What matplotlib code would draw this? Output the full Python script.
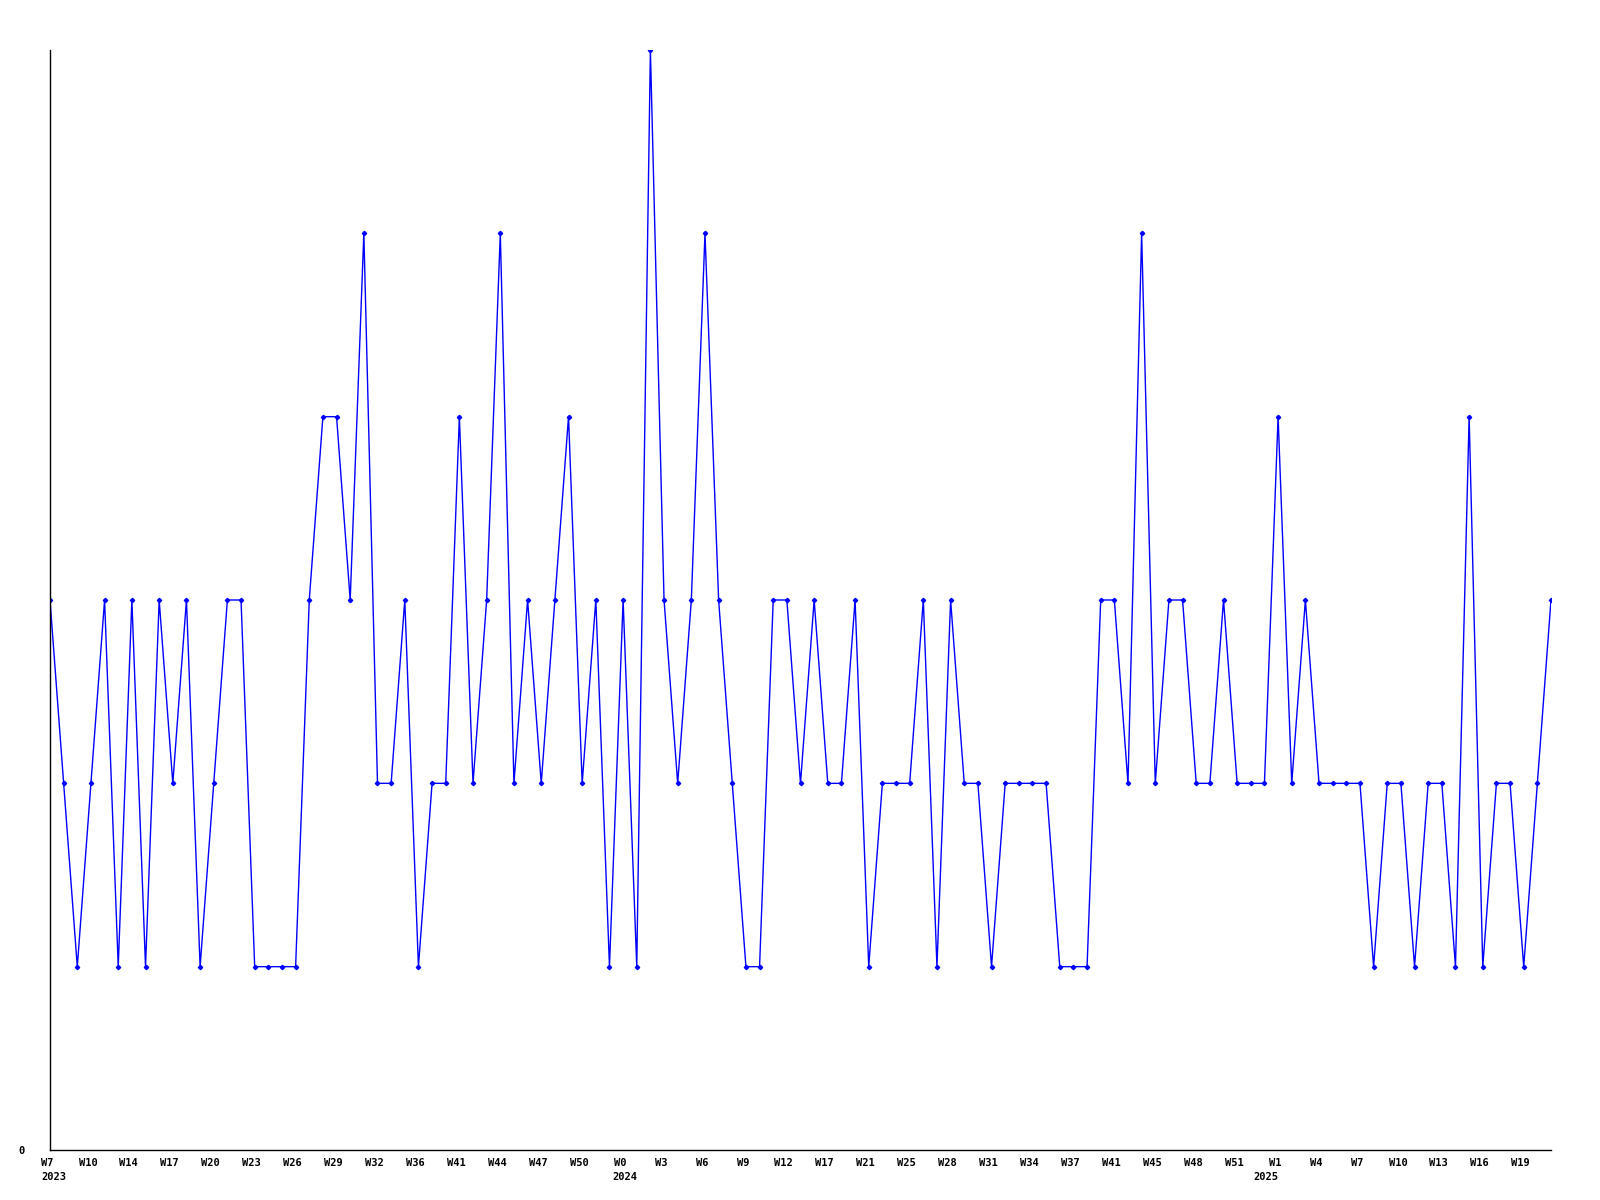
import matplotlib.pyplot as plt
import matplotlib.transforms as mtransforms

# weekly counts, one per week (W7 2023 .. W20 2025)
counts = [3, 2, 1, 2, 3, 1, 3, 1, 3, 2, 3, 1, 2, 3, 3, 1, 1, 1, 1, 3,
          4, 4, 3, 5, 2, 2, 3, 1, 2, 2, 4, 2, 3, 5, 2, 3, 2, 3, 4, 2,
          3, 1, 3, 1, 6, 3, 2, 3, 5, 3, 2, 1, 1, 3, 3, 2, 3, 2, 2, 3,
          1, 2, 2, 2, 3, 1, 3, 2, 2, 1, 2, 2, 2, 2, 1, 1, 1, 3, 3, 2,
          5, 2, 3, 3, 2, 2, 3, 2, 2, 2, 4, 2, 3, 2, 2, 2, 2, 1, 2, 2,
          1, 2, 2, 1, 4, 1, 2, 2, 1, 2, 3]

week_labels = ["W7", "W10", "W14", "W17", "W20", "W23", "W26", "W29", "W32",
               "W36", "W41", "W44", "W47", "W50", "W0", "W3", "W6", "W9",
               "W12", "W17", "W21", "W25", "W28", "W31", "W34", "W37", "W41",
               "W45", "W48", "W51", "W1", "W4", "W7", "W10", "W13", "W16", "W19"]
label_every = 3

years = ["2023", "2024", "2025"]
year_idx = [0, 42, 90]
year_shift_px = [3.5, 2, -12]

font = {'family': 'DejaVu Sans Mono', 'weight': 'bold', 'size': 7.5}

fig = plt.figure(figsize=(16, 12), dpi=100)
ax = fig.add_axes([50 / 1600, 50 / 1200, 1501 / 1600, 1100 / 1200])

x = list(range(len(counts)))
ax.plot(x, counts, color='#0000ff', lw=1, marker='D', markersize=2.2)

ax.set_xlim(0, len(counts) - 1)
ax.set_ylim(0, 6)

for s in ['top', 'right']:
    ax.spines[s].set_visible(False)
for s in ['left', 'bottom']:
    ax.spines[s].set_color('black')
    ax.spines[s].set_linewidth(1)

ax.set_xticks(x[::label_every])
ax.set_xticklabels(week_labels, **font)
ax.tick_params(axis='x', length=0, pad=6)
# week labels sit a few pixels left of their point
shift = mtransforms.ScaledTranslation(-3 / 100, 0, fig.dpi_scale_trans)
for lbl in ax.get_xticklabels():
    lbl.set_transform(lbl.get_transform() + shift)

ax.set_yticks([0])
ax.set_yticklabels(["0"], **font)
ax.tick_params(axis='y', length=0, pad=18)

for yr, i, dx in zip(years, year_idx, year_shift_px):
    ax.annotate(yr, xy=(i, 0), xycoords=('data', 'axes fraction'),
                xytext=(dx, -27), textcoords='offset pixels',
                ha='center', va='center', annotation_clip=False, **font)

fig.savefig("out.png", dpi=100)
